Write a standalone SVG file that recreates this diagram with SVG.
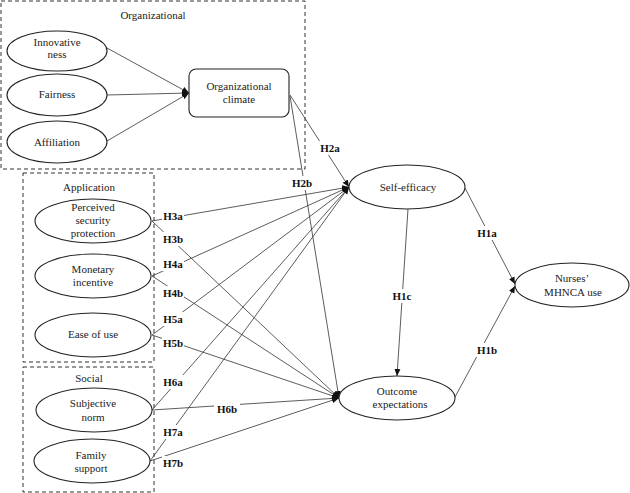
<svg xmlns="http://www.w3.org/2000/svg" width="630" height="493" viewBox="0 0 630 493">
<style>
.grp{fill:none;stroke:#333;stroke-width:1;stroke-dasharray:4,3}
.nd{fill:#fff;stroke:#222;stroke-width:1.1}
text{font-family:'Liberation Serif','DejaVu Serif','Times New Roman',serif}
.t{font-size:11px;fill:#222;text-anchor:middle}
.h{font-size:11px;font-weight:bold;fill:#111;text-anchor:middle}
.c{fill:none;stroke:#333;stroke-width:0.8;marker-end:url(#ah)}
.bg{fill:#fff}
</style>
<defs>
<marker id="ah" markerWidth="7" markerHeight="7" refX="7" refY="3.5" orient="auto" markerUnits="userSpaceOnUse">
<path d="M0,0.5 L7,3.5 L0,6.5 Z" fill="#111"/>
</marker>
</defs>
<rect width="630" height="493" fill="#fff"/>
<g id="groups">
<rect class="grp" x="1" y="1" width="304" height="168"/>
<text class="t" x="153" y="19" font-family="Liberation Serif, serif">Organizational</text>
<rect class="grp" x="23" y="173" width="131" height="189"/>
<text class="t" x="89" y="191">Application</text>
<rect class="grp" x="23" y="367" width="131" height="125"/>
<text class="t" x="89" y="382">Social</text>
</g>
<g id="connectors">
<line class="c" x1="107" y1="48" x2="189" y2="93"/>
<line class="c" x1="107" y1="95" x2="189" y2="93"/>
<line class="c" x1="107" y1="141" x2="189" y2="93"/>
<line class="c" x1="290" y1="95" x2="349" y2="187"/>
<line class="c" x1="290" y1="96" x2="339" y2="398"/>
<line class="c" x1="152" y1="221" x2="349" y2="187"/>
<line class="c" x1="152" y1="221" x2="339" y2="398"/>
<line class="c" x1="152" y1="276" x2="349" y2="187"/>
<line class="c" x1="152" y1="276" x2="339" y2="398"/>
<line class="c" x1="152" y1="335" x2="349" y2="187"/>
<line class="c" x1="152" y1="335" x2="339" y2="398"/>
<line class="c" x1="152" y1="410" x2="349" y2="187"/>
<line class="c" x1="152" y1="410" x2="339" y2="398"/>
<line class="c" x1="150" y1="461" x2="349" y2="187"/>
<line class="c" x1="150" y1="461" x2="339" y2="398"/>
<line class="c" x1="408" y1="209" x2="397" y2="376"/>
<line class="c" x1="465" y1="188" x2="515" y2="284"/>
<line class="c" x1="455" y1="397" x2="515" y2="286"/>
</g>
<g id="labels">
<rect class="bg" x="319" y="141" width="22" height="14"/><text class="h" x="330" y="152">H2a</text>
<rect class="bg" x="291" y="176" width="22" height="14"/><text class="h" x="302" y="187">H2b</text>
<rect class="bg" x="162" y="209" width="22" height="14"/><text class="h" x="173" y="220">H3a</text>
<rect class="bg" x="162" y="232" width="22" height="14"/><text class="h" x="173" y="243">H3b</text>
<rect class="bg" x="162" y="257" width="22" height="14"/><text class="h" x="173" y="268">H4a</text>
<rect class="bg" x="162" y="286" width="22" height="14"/><text class="h" x="173" y="297">H4b</text>
<rect class="bg" x="162" y="312" width="22" height="14"/><text class="h" x="173" y="323">H5a</text>
<rect class="bg" x="162" y="336" width="22" height="14"/><text class="h" x="173" y="347">H5b</text>
<rect class="bg" x="162" y="375" width="22" height="14"/><text class="h" x="173" y="386">H6a</text>
<rect class="bg" x="214" y="402" width="26" height="14"/><text class="h" x="227" y="413">H6b</text>
<rect class="bg" x="162" y="425" width="22" height="14"/><text class="h" x="173" y="436">H7a</text>
<rect class="bg" x="162" y="456" width="22" height="14"/><text class="h" x="173" y="467">H7b</text>
<rect class="bg" x="476" y="226" width="22" height="14"/><text class="h" x="487" y="237">H1a</text>
<rect class="bg" x="476" y="343" width="22" height="14"/><text class="h" x="487" y="354">H1b</text>
<rect class="bg" x="391" y="289" width="22" height="14"/><text class="h" x="402" y="300">H1c</text>
</g>
<g id="innovativeness">
<ellipse class="nd" cx="57" cy="51" rx="50" ry="20"/>
<text class="t" x="57" y="46">Innovative</text>
<text class="t" x="57" y="58">ness</text>
</g>
<g id="fairness">
<ellipse class="nd" cx="57" cy="95" rx="50" ry="21"/>
<text class="t" x="57" y="98">Fairness</text>
</g>
<g id="affiliation">
<ellipse class="nd" cx="57" cy="142" rx="50" ry="21"/>
<text class="t" x="57" y="146">Affiliation</text>
</g>
<g id="organizational-climate">
<rect class="nd" x="189" y="69" width="100" height="48" rx="7" stroke-width="1.6"/>
<text class="t" x="239" y="90">Organizational</text>
<text class="t" x="239" y="103">climate</text>
</g>
<g id="perceived-security">
<ellipse class="nd" cx="93" cy="221" rx="58" ry="22"/>
<text class="t" x="93" y="211">Perceived</text>
<text class="t" x="93" y="224">security</text>
<text class="t" x="93" y="237">protection</text>
</g>
<g id="monetary-incentive">
<ellipse class="nd" cx="93" cy="276" rx="58" ry="22"/>
<text class="t" x="93" y="273">Monetary</text>
<text class="t" x="93" y="286">incentive</text>
</g>
<g id="ease-of-use">
<ellipse class="nd" cx="93" cy="335" rx="58" ry="22"/>
<text class="t" x="93" y="338">Ease of use</text>
</g>
<g id="subjective-norm">
<ellipse class="nd" cx="94" cy="410" rx="58" ry="22"/>
<text class="t" x="93" y="407">Subjective</text>
<text class="t" x="93" y="421">norm</text>
</g>
<g id="family-support">
<ellipse class="nd" cx="92" cy="461" rx="58" ry="22"/>
<text class="t" x="91" y="459">Family</text>
<text class="t" x="91" y="472">support</text>
</g>
<g id="self-efficacy">
<ellipse class="nd" cx="407" cy="187" rx="58" ry="22"/>
<text class="t" x="408" y="191">Self-efficacy</text>
</g>
<g id="outcome-expectations">
<ellipse class="nd" cx="397" cy="398" rx="58" ry="22"/>
<text class="t" x="397" y="395">Outcome</text>
<text class="t" x="400" y="408">expectations</text>
</g>
<g id="nurses-use">
<ellipse class="nd" cx="572" cy="285" rx="57" ry="22"/>
<text class="t" x="572" y="282">Nurses’</text>
<text class="t" x="573" y="296">MHNCA use</text>
</g>
</svg>
